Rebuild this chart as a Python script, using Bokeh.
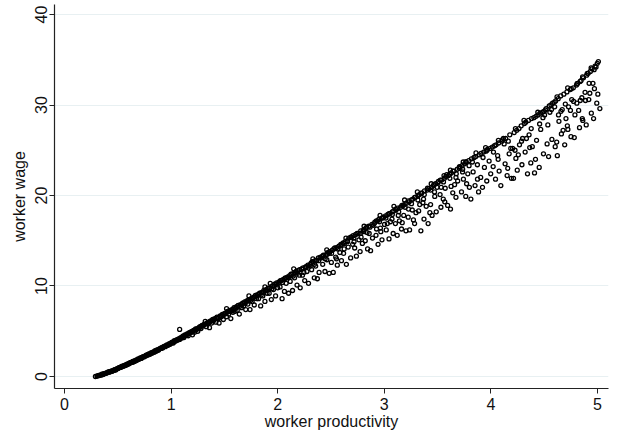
from bokeh.plotting import figure
from bokeh.models import Range1d, FixedTicker, ColumnDataSource
from bokeh.embed import file_html
from bokeh.resources import INLINE

# ---- data (worker productivity, worker wage) ----
obs_low = [
    (0.29,0.0),(0.31,0.08),(0.32,0.12),(0.34,0.15),(0.35,0.25),(0.36,0.22),(0.37,0.3),(0.38,0.33),(0.39,0.35),(0.40,0.42),
    (0.41,0.5),(0.42,0.5),(0.43,0.55),(0.44,0.6),(0.45,0.62),(0.46,0.68),(0.47,0.75),(0.48,0.72),(0.49,0.85),(0.50,0.88),
    (0.51,0.98),(0.52,1.0),(0.53,1.05),(0.54,1.15),(0.55,1.12),(0.56,1.22),(0.57,1.25),(0.58,1.3),(0.59,1.38),(0.60,1.4),
    (0.61,1.5),(0.62,1.52),(0.63,1.55),(0.64,1.68),(0.65,1.66),(0.66,1.75),(0.67,1.8),(0.68,1.82),(0.69,1.95),(0.70,1.92),
    (0.71,2.05),(0.72,2.0),(0.73,2.15),(0.74,2.2),(0.75,2.22),(0.76,2.3),(0.77,2.4),(0.78,2.38),(0.79,2.5),(0.80,2.45),
    (0.81,2.6),(0.82,2.58),(0.83,2.7),(0.84,2.72),(0.85,2.85),(0.86,2.8),(0.87,2.95),(0.88,2.9),(0.89,3.05),(0.90,3.1),
    (0.91,3.2),(0.92,3.15),(0.93,3.3),(0.94,3.35),(0.95,3.38),(0.96,3.5),(0.97,3.45),(0.98,3.6),(0.99,3.55),(1.00,3.7),
    (0.305,0.05),(0.325,0.1),(0.345,0.2),(0.365,0.28),(0.385,0.35),(0.405,0.45),(0.425,0.5),(0.445,0.58),(0.465,0.7),
    (0.485,0.8),(0.505,0.9),(0.525,1.0),(0.545,1.1),(0.565,1.2),(0.585,1.3),(0.605,1.4),(0.625,1.55),(0.645,1.6),
    (0.665,1.7),(0.685,1.85),(0.705,1.95),(0.725,2.1),(0.745,2.15),(0.765,2.3),(0.785,2.4),(0.805,2.5),(0.825,2.65),
    (0.845,2.7),(0.865,2.9),(0.885,3.0),(0.905,3.1),(0.925,3.25),(0.945,3.3),(0.965,3.45),(0.985,3.6),
]

obs_1_to_2 = [
    (1.01,3.8),(1.02,3.7),(1.03,3.95),(1.04,3.9),(1.05,4.05),(1.06,4.0),(1.07,4.15),(1.08,5.2),(1.08,4.1),(1.09,4.3),(1.10,4.25),
    (1.11,4.45),(1.12,4.3),(1.13,4.6),(1.14,4.55),(1.15,4.7),(1.16,4.5),(1.17,4.85),(1.18,4.8),(1.19,4.95),(1.20,4.6),
    (1.21,5.1),(1.22,4.9),(1.23,5.25),(1.24,5.2),(1.25,5.0),(1.26,5.4),(1.27,5.5),(1.28,5.3),(1.29,5.65),(1.30,5.6),
    (1.31,5.75),(1.32,6.1),(1.33,5.5),(1.34,5.95),(1.35,6.0),(1.36,5.4),(1.37,6.15),(1.38,5.9),(1.39,6.3),(1.40,6.2),
    (1.41,6.4),(1.42,6.0),(1.43,6.55),(1.44,6.5),(1.45,5.9),(1.46,6.7),(1.47,6.6),(1.48,6.85),(1.49,6.3),(1.50,6.95),
    (1.51,7.0),(1.52,6.6),(1.53,7.2),(1.54,6.9),(1.55,7.3),(1.56,6.4),(1.57,7.4),(1.58,7.1),(1.59,7.6),(1.60,7.2),
    (1.61,7.7),(1.62,7.3),(1.63,7.85),(1.64,6.9),(1.65,7.95),(1.66,7.6),(1.67,8.1),(1.68,7.8),(1.69,8.25),(1.70,7.4),
    (1.71,8.35),(1.72,8.0),(1.73,8.5),(1.74,7.4),(1.75,8.6),(1.76,8.3),(1.77,8.75),(1.78,7.9),(1.79,8.95),(1.80,8.6),
    (1.81,9.05),(1.82,8.6),(1.83,9.2),(1.84,7.8),(1.85,9.3),(1.86,8.9),(1.87,9.5),(1.88,8.3),(1.89,9.6),(1.90,9.2),
    (1.91,9.75),(1.92,9.2),(1.93,10.3),(1.94,8.5),(1.95,10.0),(1.96,9.6),(1.97,10.2),(1.98,8.9),(1.99,10.35),(2.00,9.8),
    (1.005,3.72),(1.025,3.85),(1.045,4.0),(1.065,4.1),(1.085,4.2),(1.105,4.35),(1.125,4.5),(1.145,4.6),(1.165,4.75),
    (1.185,4.9),(1.205,5.0),(1.225,5.15),(1.245,5.3),(1.265,5.35),(1.285,5.55),(1.305,5.7),(1.325,5.8),(1.345,5.85),
    (1.365,6.05),(1.385,6.15),(1.405,6.3),(1.425,6.45),(1.445,6.4),(1.465,6.65),(1.485,6.75),(1.505,6.9),(1.525,7.1),
    (1.545,7.2),(1.565,7.25),(1.585,7.45),(1.605,7.55),(1.625,7.8),(1.645,7.75),(1.665,7.95),(1.685,8.1),(1.705,8.2),
    (1.725,8.4),(1.745,8.4),(1.765,8.6),(1.785,8.8),(1.805,8.9),(1.825,9.1),(1.845,9.0),(1.865,9.3),(1.885,9.5),
    (1.905,9.6),(1.925,9.8),(1.945,9.7),(1.965,10.0),(1.985,10.2),
]

obs_2_to_3 = [
    (2.013,10.45),(2.022,9.9),(2.034,10.6),(2.041,8.6),(2.048,10.7),(2.063,9.4),(2.071,10.9),(2.079,10.3),(2.094,11.0),(2.102,9.2),
    (2.112,11.15),(2.117,10.5),(2.133,11.3),(2.139,9.5),(2.152,11.4),(2.158,10.9),(2.173,11.6),(2.181,10.1),(2.187,11.7),(2.204,11.2),
    (2.211,9.8),(2.226,11.85),(2.232,11.2),(2.238,12.0),(2.253,10.6),(2.262,12.1),(2.274,11.6),(2.283,12.3),(2.289,10.3),(2.306,12.4),
    (2.314,12.55),(2.318,11.8),(2.334,12.7),(2.343,10.9),(2.351,12.8),(2.356,12.2),(2.372,10.8),(2.381,13.1),(2.388,11.5),(2.397,13.15),
    (2.413,13.25),(2.422,12.4),(2.428,13.4),(2.443,11.6),(2.456,13.5),(2.461,12.9),(2.472,13.7),(2.483,11.4),(2.487,13.8),(2.503,12.6),
    (2.512,13.95),(2.521,11.5),(2.527,14.1),(2.544,13.2),(2.553,14.25),(2.559,12.3),(2.574,14.4),(2.583,13.7),(2.592,14.6),(2.598,12.8),
    (2.614,14.75),(2.618,13.6),(2.633,14.9),(2.644,12.4),(2.652,15.0),(2.661,14.3),(2.667,15.3),(2.684,13.1),(2.691,15.4),(2.703,14.6),
    (2.707,15.55),(2.722,14.2),(2.731,15.7),(2.738,13.3),(2.754,15.8),(2.762,15.1),(2.773,13.8),(2.779,16.1),(2.794,14.7),(2.802,16.15),
    (2.812,16.25),(2.821,15.0),(2.827,16.4),(2.843,14.1),(2.854,16.6),(2.858,15.8),(2.871,13.9),(2.884,16.8),(2.889,15.3),(2.906,16.9),
    (2.911,17.05),(2.922,15.6),(2.936,17.2),(2.941,14.6),(2.948,17.35),(2.963,16.4),(2.974,17.5),(2.978,15.1),(2.993,17.6),(3.002,16.8),
    (2.005,10.3),(2.025,10.6),(2.045,10.4),(2.065,10.8),(2.085,10.9),(2.105,10.9),(2.125,11.3),(2.145,11.1),(2.165,11.5),
    (2.185,11.4),(2.205,11.8),(2.225,11.9),(2.245,11.5),(2.265,12.1),(2.285,12.2),(2.305,12.2),(2.325,12.7),(2.345,12.4),
    (2.365,12.8),(2.385,12.8),(2.405,13.1),(2.425,13.3),(2.445,13.0),(2.465,13.5),(2.485,13.6),
    (2.505,13.6),(2.535,14.2),(2.565,14.1),(2.595,14.5),(2.625,14.7),(2.655,14.9),(2.685,15.4),(2.715,15.3),(2.745,15.8),
    (2.775,15.8),(2.805,16.0),(2.835,16.5),(2.865,16.5),(2.895,16.7),(2.925,17.2),(2.955,17.1),(2.985,17.5),
    (2.551,13.0),(2.623,14.1),(2.716,14.9),(2.782,15.4),(2.838,15.9),(2.927,16.3),(2.967,16.0),
]

obs_3_to_4 = [
    (3.012,17.75),(3.018,16.2),(3.033,17.9),(3.044,15.2),(3.052,18.0),(3.057,17.1),(3.074,18.2),(3.083,15.8),(3.088,18.3),(3.104,16.9),
    (3.113,18.45),(3.121,15.6),(3.127,18.6),(3.142,17.2),(3.153,18.7),(3.161,16.3),(3.176,18.9),(3.182,17.8),(3.187,19.0),(3.203,16.1),
    (3.208,19.15),(3.224,17.6),(3.233,19.3),(3.237,16.2),(3.254,19.5),(3.262,18.4),(3.268,19.6),(3.284,16.9),(3.292,19.8),(3.297,18.1),
    (3.314,19.95),(3.322,18.3),(3.328,20.1),(3.343,16.1),(3.351,20.3),(3.362,19.2),(3.372,17.4),(3.377,20.5),(3.393,18.8),(3.402,20.6),
    (3.411,16.9),(3.418,20.75),(3.434,19.0),(3.443,20.9),(3.448,17.8),(3.462,21.1),(3.473,19.9),(3.481,21.3),(3.487,18.2),(3.503,21.4),
    (3.507,21.55),(3.523,20.1),(3.531,18.7),(3.538,21.7),(3.553,19.6),(3.564,21.9),(3.571,20.8),(3.578,22.1),(3.594,18.9),(3.602,22.2),
    (3.613,22.35),(3.621,18.5),(3.628,22.5),(3.642,20.3),(3.654,22.7),(3.659,21.2),(3.672,19.8),(3.684,22.9),(3.688,21.6),(3.703,23.0),
    (3.711,23.15),(3.724,20.4),(3.729,23.3),(3.742,21.8),(3.753,23.5),(3.764,19.9),(3.768,23.7),(3.783,22.4),(3.792,23.85),(3.798,20.9),
    (3.812,19.6),(3.817,24.05),(3.833,22.6),(3.842,24.2),(3.851,21.1),(3.858,24.3),(3.873,23.4),(3.884,20.4),(3.889,24.5),(3.904,22.0),
    (3.907,24.65),(3.921,20.9),(3.932,24.8),(3.939,23.1),(3.954,24.9),(3.961,21.6),(3.968,25.1),(3.983,23.8),(3.992,25.2),(3.998,22.4),
    (3.015,17.5),(3.045,18.0),(3.075,17.9),(3.105,18.5),(3.135,18.2),(3.165,18.9),(3.195,18.7),(3.225,19.4),(3.255,19.1),
    (3.285,19.8),(3.315,19.5),(3.345,20.2),(3.375,20.1),(3.405,20.8),(3.435,20.6),(3.465,21.2),(3.495,20.9),(3.525,21.7),
    (3.555,21.5),(3.585,22.3),(3.615,21.9),(3.645,22.7),(3.675,22.4),(3.705,23.2),(3.735,22.9),(3.765,23.7),(3.795,23.3),
    (3.028,16.9),(3.072,17.4),(3.131,17.8),(3.168,17.0),(3.227,18.5),(3.273,17.3),(3.332,19.0),(3.368,19.6),(3.427,18.1),(3.471,20.4),
    (3.533,20.9),(3.567,19.3),(3.626,21.0),(3.672,22.0),(3.734,22.6),(3.772,21.3),(3.826,23.7),(3.874,21.8),(3.926,24.2),(3.963,25.0),
]

obs_4_to_5 = [
    (4.013,25.35),(4.021,23.2),(4.034,25.5),(4.043,21.8),(4.048,25.6),(4.063,24.4),(4.072,25.8),(4.077,22.7),(4.093,21.1),(4.104,26.0),
    (4.108,26.15),(4.124,25.7),(4.133,23.5),(4.138,26.3),(4.152,22.2),(4.163,26.0),(4.171,24.6),(4.177,26.7),(4.192,21.9),(4.204,25.2),
    (4.212,21.9),(4.218,26.95),(4.234,24.1),(4.242,27.2),(4.247,22.8),(4.263,27.4),(4.268,25.6),(4.284,27.7),(4.291,23.4),(4.297,26.3),
    (4.314,27.95),(4.321,24.8),(4.327,28.1),(4.343,22.4),(4.352,28.3),(4.358,26.7),(4.374,23.6),(4.381,28.5),(4.388,25.4),(4.403,28.6),
    (4.409,22.5),(4.423,28.75),(4.428,26.1),(4.442,28.9),(4.453,23.1),(4.461,29.1),(4.467,27.3),(4.484,29.2),(4.493,24.6),(4.498,29.3),
    (4.512,29.45),(4.518,29.6),(4.534,27.8),(4.541,24.3),(4.547,29.9),(4.563,30.0),(4.572,26.2),(4.578,30.2),(4.594,30.3),(4.603,25.4),
    (4.607,30.45),(4.623,24.4),(4.631,30.7),(4.638,28.2),(4.654,31.0),(4.661,26.8),(4.669,29.5),(4.684,31.2),(4.692,25.6),(4.698,30.1),
    (4.713,31.45),(4.722,27.3),(4.728,29.8),(4.744,31.7),(4.751,26.5),(4.758,30.6),(4.773,31.9),(4.782,26.4),(4.788,28.9),(4.803,32.2),
    (4.808,32.35),(4.823,29.4),(4.831,27.5),(4.837,32.6),(4.853,30.8),(4.862,28.3),(4.868,33.0),(4.883,31.4),(4.894,27.8),(4.898,33.3),
    (4.912,33.5),(4.918,30.6),(4.933,33.7),(4.942,29.1),(4.949,34.0),(4.963,28.5),(4.971,31.8),(4.977,34.3),(4.993,30.2),(4.998,34.6),
    (5.008,34.8),(5.022,29.6),
    (4.024,24.8),(4.068,24.0),(4.117,26.3),(4.158,23.0),(4.186,25.2),(4.226,25.0),(4.257,24.5),(4.287,26.0),(4.333,26.3),(4.364,25.3),
    (4.378,27.4),(4.418,24.0),(4.457,27.9),(4.488,28.6),(4.503,28.9),(4.527,25.7),(4.553,29.2),(4.568,29.5),(4.598,29.8),(4.617,25.9),
    (4.634,28.9),(4.657,29.3),(4.677,27.2),(4.704,28.5),(4.717,27.7),(4.746,29.4),(4.754,31.8),(4.776,30.4),(4.806,30.2),(4.814,32.4),
    (4.838,30.5),(4.846,32.7),(4.857,28.5),(4.887,30.5),(4.904,33.5),(4.928,31.3),(4.921,32.4),(4.957,32.4),(4.968,33.9),(4.986,34.2),
    (5.003,31.2),
]

obs_above_band = [
    (1.52,7.5),(1.73,8.9),(1.88,9.9),(2.15,11.9),(2.33,13.0),(2.46,14.0),(2.64,15.3),(2.81,16.6),(2.96,17.8),
    (3.09,18.8),(3.19,19.5),(3.31,20.4),(3.44,21.3),(3.56,22.2),(3.62,22.8),(3.74,23.7),(3.86,24.7),(3.95,25.3),
    (4.07,26.1),(4.23,27.4),(4.31,28.3),(4.44,29.2),(4.62,30.9),(4.72,31.9),(4.86,33.1),(4.94,34.1),
]

x_ticks = [0, 1, 2, 3, 4, 5]
y_ticks = [0, 10, 20, 30, 40]
x_label = "worker productivity"
y_label = "worker wage"

all_obs = obs_low + obs_1_to_2 + obs_2_to_3 + obs_3_to_4 + obs_4_to_5 + obs_above_band
productivity = [p for p, w in all_obs]
wage = [w for p, w in all_obs]
src = ColumnDataSource(dict(productivity=productivity, wage=wage))

FONT = "Liberation Sans"

p = figure(width=618, height=435, output_backend="svg", toolbar_location=None,
           x_range=Range1d(-0.094, 5.103), y_range=Range1d(-1.326, 41.105),
           min_border_left=54, min_border_right=10, min_border_top=4, min_border_bottom=47)
p.outline_line_color = None
p.background_fill_color = "white"
p.border_fill_color = "white"

p.scatter("productivity", "wage", source=src, marker="circle", size=4,
          fill_alpha=0, line_color="#000000", line_width=1.3)

p.xgrid.visible = False
p.ygrid.grid_line_color = "#e8f0f2"
p.ygrid.grid_line_width = 1

p.xaxis.ticker = FixedTicker(ticks=x_ticks)
p.yaxis.ticker = FixedTicker(ticks=y_ticks)
p.xaxis.axis_label = x_label
p.yaxis.axis_label = y_label
for ax in (p.xaxis[0], p.yaxis[0]):
    ax.minor_tick_line_color = None
    ax.major_tick_in = 0
    ax.major_tick_out = 5
    ax.major_tick_line_color = "#222222"
    ax.axis_line_color = "#222222"
    ax.axis_line_width = 1.2
    ax.major_label_text_font = FONT
    ax.major_label_text_font_size = "16px"
    ax.major_label_text_color = "#111111"
    ax.axis_label_text_font = FONT
    ax.axis_label_text_font_size = "16px"
    ax.axis_label_text_font_style = "normal"
    ax.axis_label_text_color = "#111111"
p.yaxis.major_label_orientation = "vertical"
p.yaxis.major_label_standoff = 2
p.yaxis.axis_label_standoff = 5
p.xaxis.major_label_standoff = 4
p.xaxis.axis_label_standoff = 0

open("out.html", "w").write(file_html(p, INLINE))
